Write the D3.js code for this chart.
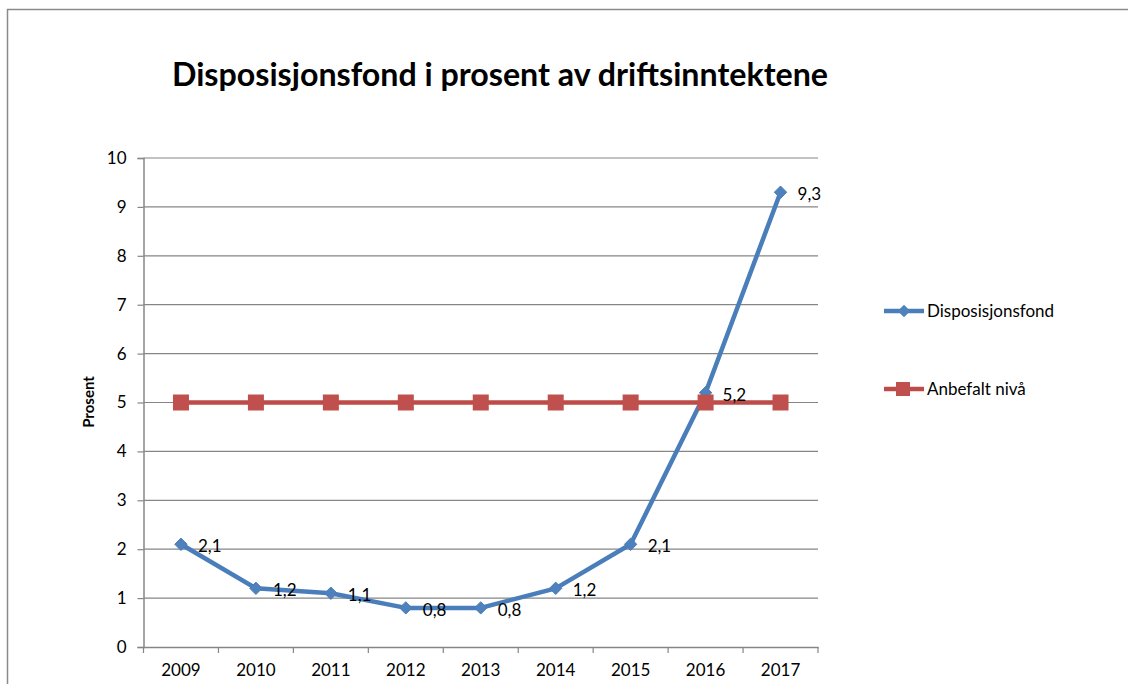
<!DOCTYPE html>
<html>
<head>
<meta charset="utf-8">
<script src="https://cdnjs.cloudflare.com/ajax/libs/d3/7.8.5/d3.min.js"></script>
<style>
    body { margin: 0; background: #fff; }
    svg text { font-family: Lato, "Liberation Sans", sans-serif; fill: #000; }
</style>
</head>
<body>
<div id="chart"></div>
<script>
var years = ['2009', '2010', '2011', '2012', '2013', '2014', '2015', '2016', '2017'];
var fondValues = [2.1, 1.2, 1.1, 0.8, 0.8, 1.2, 2.1, 5.2, 9.3];
var anbefaltValues = [5, 5, 5, 5, 5, 5, 5, 5, 5];
var yTickValues = [0, 1, 2, 3, 4, 5, 6, 7, 8, 9, 10];
var seriesNames = ['Disposisjonsfond', 'Anbefalt nivå'];

;(function () {

    var width = 1128
        , height = 684
        , left = 143.5
        , right = 818
        , top = 158
        , bottom = 647
        , gridColor = '#868686'
        , blueLine = '#4A7EBB'
        , blueMark = '#4F81BD'
        , redLine = '#BE4B48'
        , redMark = '#C0504D'
        , svg;

    // norwegian decimal comma
    var fmt = function (v) { return d3.format('.1f')(v).replace('.', ','); };

    svg = d3.select('#chart').append('svg')
        .attr('width', width)
        .attr('height', height);

    // chart frame (runs off the right and bottom)
    svg.append('rect')
        .attr('x', 7.5).attr('y', 9.5)
        .attr('width', 1200).attr('height', 800)
        .attr('fill', 'none')
        .attr('stroke', '#8a8a8a')
        .attr('stroke-width', 1.5);

    svg.append('text')
        .attr('x', 172)
        .attr('y', 86)
        .attr('font-size', 32)
        .attr('font-weight', 'bold')
        .attr('textLength', 656)
        .attr('lengthAdjust', 'spacingAndGlyphs')
        .text('Disposisjonsfond i prosent av driftsinntektene');

    var x = d3.scaleBand().domain(years).range([left, right]);
    var y = d3.scaleLinear().domain([0, 10]).range([bottom, top]);
    var cx = function (d, i) { return x(years[i]) + x.bandwidth() / 2; };

    // gridlines
    svg.append('g')
        .selectAll('line')
        .data(yTickValues.filter(function (d) { return d > 0; }))
        .enter().append('line')
        .attr('x1', left).attr('x2', right)
        .attr('y1', function (d) { return y(d); })
        .attr('y2', function (d) { return y(d); })
        .attr('stroke', gridColor)
        .attr('stroke-width', 1.2);

    // y axis
    var yAxis = svg.append('g')
        .attr('transform', 'translate(' + left + ',0)')
        .call(d3.axisLeft(y).tickValues(yTickValues).tickSize(6).tickPadding(11).tickFormat(d3.format('d')));
    yAxis.select('.domain').attr('stroke', gridColor).attr('stroke-width', 1.5);
    yAxis.selectAll('.tick line').attr('stroke', gridColor).attr('stroke-width', 1.2);
    yAxis.selectAll('.tick text')
        .attr('font-size', 17)
        .attr('font-family', 'Lato, sans-serif')
        .attr('fill', '#000');

    // x axis: labels at centres, ticks on category borders
    var xAxis = svg.append('g')
        .attr('transform', 'translate(0,' + bottom + ')')
        .call(d3.axisBottom(x).tickSize(0).tickPadding(17));
    xAxis.select('.domain').attr('stroke', gridColor).attr('stroke-width', 1.5);
    xAxis.selectAll('.tick text')
        .attr('font-size', 17)
        .attr('font-family', 'Lato, sans-serif')
        .attr('fill', '#000');

    var borders = years.map(function (d) { return x(d); }).concat([right]);
    svg.append('g')
        .selectAll('line')
        .data(borders)
        .enter().append('line')
        .attr('x1', function (d) { return d; })
        .attr('x2', function (d) { return d; })
        .attr('y1', bottom)
        .attr('y2', bottom + 6)
        .attr('stroke', gridColor)
        .attr('stroke-width', 1.2);

    svg.append('text')
        .attr('transform', 'translate(94,402) rotate(-90)')
        .attr('text-anchor', 'middle')
        .attr('font-size', 15)
        .attr('font-weight', 'bold')
        .text('Prosent');

    var line = d3.line()
        .x(cx)
        .y(function (d) { return y(d); });

    var diamond = d3.symbol().type(d3.symbolDiamond2).size(98);

    // Disposisjonsfond
    svg.append('path')
        .datum(fondValues)
        .attr('d', line)
        .attr('fill', 'none')
        .attr('stroke', blueLine)
        .attr('stroke-width', 4.5)
        .attr('stroke-linejoin', 'round');

    svg.append('g')
        .selectAll('path')
        .data(fondValues)
        .enter().append('path')
        .attr('d', diamond)
        .attr('transform', function (d, i) { return 'translate(' + cx(d, i) + ',' + y(d) + ')'; })
        .attr('fill', blueMark)
        .attr('stroke', blueLine)
        .attr('stroke-width', 1);

    // Anbefalt nivå
    svg.append('path')
        .datum(anbefaltValues)
        .attr('d', line)
        .attr('fill', 'none')
        .attr('stroke', redLine)
        .attr('stroke-width', 4.5);

    svg.append('g')
        .selectAll('rect')
        .data(anbefaltValues)
        .enter().append('rect')
        .attr('x', function (d, i) { return cx(d, i) - 8; })
        .attr('y', function (d) { return y(d) - 8; })
        .attr('width', 16)
        .attr('height', 16)
        .attr('fill', redMark);

    // data labels
    svg.append('g')
        .selectAll('text')
        .data(fondValues)
        .enter().append('text')
        .attr('x', function (d, i) { return cx(d, i) + 17; })
        .attr('y', function (d) { return y(d) + 8; })
        .attr('font-size', 17)
        .text(fmt);

    // legend
    var legend = svg.append('g');
    var legendY = [311, 389];

    legend.append('line')
        .attr('x1', 884).attr('x2', 924)
        .attr('y1', legendY[0]).attr('y2', legendY[0])
        .attr('stroke', blueLine).attr('stroke-width', 4.5);
    legend.append('path')
        .attr('d', diamond)
        .attr('transform', 'translate(904,' + legendY[0] + ')')
        .attr('fill', blueMark);

    legend.append('line')
        .attr('x1', 884).attr('x2', 924)
        .attr('y1', legendY[1]).attr('y2', legendY[1])
        .attr('stroke', redLine).attr('stroke-width', 4.5);
    legend.append('rect')
        .attr('x', 896).attr('y', legendY[1] - 7)
        .attr('width', 14).attr('height', 14)
        .attr('fill', redMark);

    legend.selectAll('text')
        .data(seriesNames)
        .enter().append('text')
        .attr('x', 927)
        .attr('y', function (d, i) { return legendY[i] + 6; })
        .attr('font-size', 17)
        .text(function (d) { return d; });

}());
</script>
</body>
</html>
